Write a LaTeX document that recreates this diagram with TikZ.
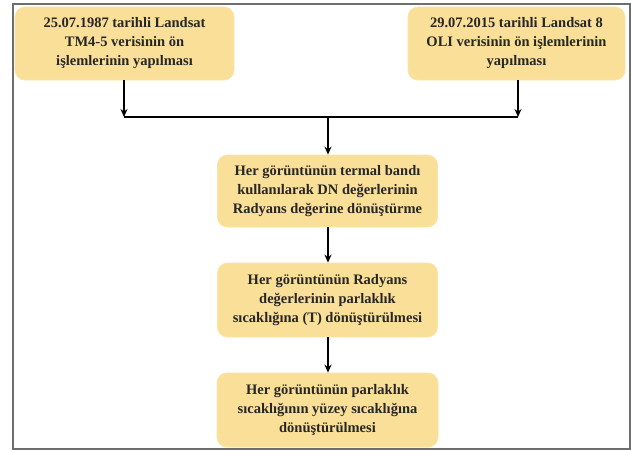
\documentclass[tikz,border=0pt]{standalone}
\usepackage{fontspec}
\setmainfont{Liberation Serif}
\usetikzlibrary{arrows.meta}
\definecolor{boxfill}{RGB}{250,223,152}
\definecolor{framegray}{RGB}{110,110,110}
\begin{document}
\begin{tikzpicture}[x=1pt,y=-1pt,
  stepbox/.style={fill=boxfill,draw=boxfill!85!white,line width=0.8pt,rounded corners=10pt,
    minimum height=73pt,align=center,inner sep=2pt,
    font=\fontsize{14.5}{19}\selectfont\bfseries,text=black!85},
  arr/.style={line width=1.8pt,-{Stealth[length=8pt,width=7pt]}},
  ln/.style={line width=1.8pt}]
\useasboundingbox (0,0) rectangle (631,451);
\node[stepbox,minimum width=219pt] (b1) at (124.5,43.5) {25.07.1987 tarihli Landsat\\TM4-5 verisinin ön\\işlemlerinin yapılması};
\node[stepbox,minimum width=217pt] (b2) at (516.5,43.5) {29.07.2015 tarihli Landsat 8\\OLI verisinin ön işlemlerinin\\yapılması};
\node[stepbox,minimum width=220pt,minimum height=72pt] (b3) at (327.5,191) {Her görüntünün termal bandı\\kullanılarak DN değerlerinin\\Radyans değerine dönüştürme};
\node[stepbox,minimum width=220pt,minimum height=74pt] (b4) at (327.5,300) {Her görüntünün Radyans\\değerlerinin parlaklık\\sıcaklığına (T) dönüştürülmesi};
\node[stepbox,minimum width=221pt,minimum height=74pt] (b5) at (327.5,410) {Her görüntünün parlaklık\\sıcaklığının yüzey sıcaklığına\\dönüştürülmesi};
\coordinate (jl) at (124,117);
\coordinate (jr) at (518,117);
\coordinate (jc) at (328,117);
\draw[arr] (124,80) -- (jl);
\draw[arr] (518,80) -- (jr);
\draw[ln] (jl) -- (jr);
\draw[arr] (jc) -- (b3.north -| jc);
\draw[arr] (b3.south -| jc) -- (b4.north -| jc);
\draw[arr] (b4.south -| jc) -- (b5.north -| jc);
\draw[framegray,line width=1.5pt] (13,4) rectangle (630,449);
\end{tikzpicture}
\end{document}
